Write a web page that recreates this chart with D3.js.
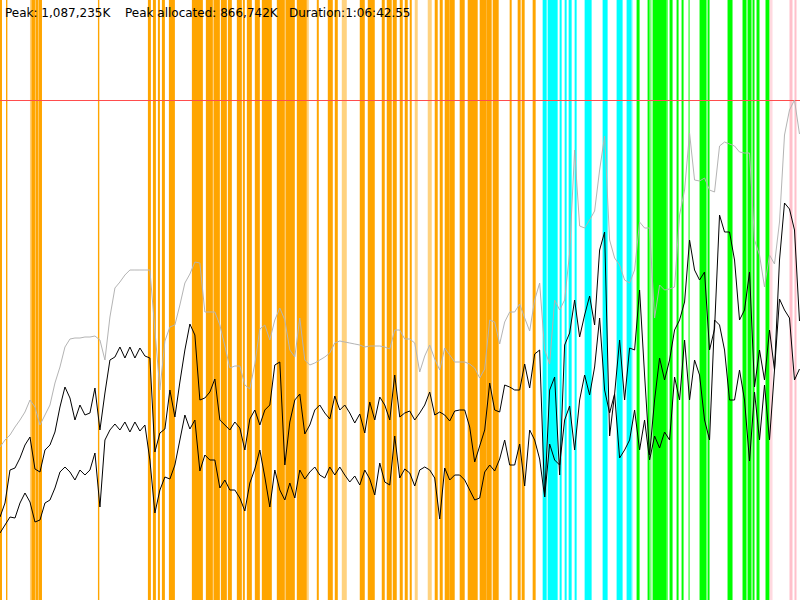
<!DOCTYPE html>
<html>
<head>
<meta charset="utf-8">
<script src="https://cdn.jsdelivr.net/npm/d3@7"></script>
<style>
  body { margin: 0; background: #fff; }
  svg { display: block; }
  text { font-family: "DejaVu Sans", sans-serif; font-size: 12px; fill: #000; }
</style>
</head>
<body>
<svg id="chart"></svg>
<script>
const WIDTH = 800;
const HEIGHT = 600;

// run summary
const DURATION_S = 4002.55;
const SAMPLE_S = 25;
const headerLabels = ["Peak: 1,087,235K", "Peak allocated: 866,742K", "Duration:1:06:42.55"];

// heap sizes sampled every 25 s, in % of the peak (1,087,235K)
const heapTotal = [
  30.6, 32, 33, 34.6, 36, 37.6, 40, 38.6, 35, 37,
  39, 43.4, 46.6, 50.6, 52.2, 52.4, 52.4, 52.6, 52.6, 52.8,
  52, 48, 56.6, 62.4, 63.6, 65, 66, 66, 66, 66,
  66, 54, 42, 51.8, 54.6, 55, 59, 63.4, 65.2, 67.6,
  67.4, 57.6, 57.6, 57.6, 55, 50.8, 46.4, 46.8, 46.8, 43,
  42.2, 47.2, 54.2, 55, 52, 56, 58.4, 56, 50, 48.6,
  56.4, 48, 47, 47.4, 48, 48.6, 49.4, 51.4, 51.8, 51.6,
  51.4, 51.2, 51, 50.6, 50.8, 50.8, 50.8, 50.6, 50.2, 54,
  54, 52.2, 52.2, 51.4, 45.6, 48.8, 51, 48.2, 46, 50.4,
  49, 47.6, 47.6, 47.6, 47.2, 46.4, 44.4, 46.2, 56, 55.6,
  51.2, 55.6, 57.6, 57.6, 59.2, 56.4, 53.8, 60, 63.4, 50,
  47.2, 60, 58, 60, 69.4, 90, 74.8, 74.4, 76, 77.8,
  86, 92.8, 72, 68.4, 67, 64, 63.4, 66, 75.6, 74.4,
  74.4, 56.4, 63, 62, 62.2, 62.6, 77, 82, 93.4, 84,
  83.8, 84.4, 82, 81.6, 90.8, 91.6, 91.2, 90.8, 89.6, 89.4,
  89.4, 72, 69, 62.6, 69, 67.2, 75.6, 93, 98, 100,
  93.2
];

const allocatedHigh = [
  16.6, 19.4, 26, 26.4, 28.4, 31, 32.6, 26.2, 25.6, 30,
  31, 33.6, 38.6, 42.6, 40.4, 36, 39, 37, 37.4, 42.4,
  34, 41.4, 48, 48.6, 50.6, 48.4, 50.6, 48.4, 50.4, 48.8,
  48.4, 29.6, 33.4, 34.2, 42, 36.6, 43.6, 50, 55.2, 53,
  40, 40.4, 41.6, 44.2, 36, 35, 34, 35.6, 34.4, 30,
  36.2, 38, 35, 38, 39, 47, 47.6, 27, 35.6, 40,
  41.2, 33.2, 35, 38, 39, 37.4, 36.2, 40.8, 38, 39,
  37.4, 35.4, 37.2, 33.4, 39.6, 36, 40.6, 39, 36, 45,
  36.6, 37.4, 37.8, 36, 37.4, 39, 41.6, 37, 37.6, 37,
  35.8, 37.8, 38, 38, 34.6, 27.6, 30.8, 34, 43.4, 38,
  37.6, 43, 42.6, 42, 42, 47.2, 42.4, 49.2, 50, 20.6,
  42, 44.6, 25, 51, 53.4, 60, 52.6, 57, 60.8, 55,
  70, 73.6, 32.8, 41.2, 52, 40, 50.4, 50, 62, 45,
  29, 40, 48.4, 44, 48, 54, 56, 59.6, 72, 66,
  64, 65.6, 50, 54.2, 77, 73.6, 73.6, 68, 56, 58,
  65.6, 42.6, 50, 44, 54, 46, 68, 79.4, 78.2, 74,
  55.8
];

const allocatedLow = [
  13.4, 15, 16.6, 16.4, 19.4, 21.4, 19.6, 15.6, 16, 19.4,
  20, 22.4, 25.6, 26.6, 25.6, 24, 26, 25, 26, 29.4,
  18.6, 32, 34, 35.2, 34, 35.6, 33.6, 35.6, 33.8, 35,
  28, 17.4, 22, 24.6, 24.2, 27, 32, 37, 34.2, 36,
  25.8, 29, 28, 28, 22.4, 24, 22, 22, 20.4, 17.8,
  23.4, 26.2, 30, 24.6, 18.6, 26, 22, 20, 23.4, 20.4,
  26, 24.2, 25.6, 26.6, 25, 24.4, 26.6, 25, 26.6, 25,
  23.6, 24.8, 23, 26, 24.2, 21, 27.4, 23.6, 23, 32.8,
  24.4, 26.2, 25.4, 22.8, 26, 26.6, 26, 24.4, 16.2, 26.4,
  24, 25, 25, 24, 22, 20, 20.4, 25.6, 27, 25.8,
  28.2, 32, 27, 27, 31.2, 22.8, 34, 32, 28.2, 20.6,
  31.2, 28, 27, 36, 38.8, 30, 40, 45, 41, 46.6,
  56.4, 42, 37.4, 41.2, 28.4, 30, 32, 38, 30, 36,
  28, 32.8, 30.4, 33.6, 32, 44.6, 40, 52, 40, 48,
  45, 36, 32, 56, 55, 50, 40, 40, 46, 40,
  27.8, 41.6, 32, 43, 32, 46, 60.2, 58, 56.4, 44,
  46.2
];

// collection periods, [start s, end s]
const orangeSpans = [
  [0, 10], [30, 37], [157, 175], [177, 190], [192, 210], [490, 497],
  [740, 755], [765, 780], [790, 800], [810, 825], [845, 875],
  [960, 1015], [1030, 1065], [1068, 1100], [1105, 1135], [1140, 1160],
  [1185, 1210], [1215, 1225], [1235, 1260], [1275, 1300], [1310, 1360],
  [1385, 1425], [1428, 1475], [1485, 1535], [1585, 1595], [1640, 1665],
  [1675, 1690], [1800, 1825], [1840, 1875], [1910, 1925], [1935, 1960],
  [1965, 1985], [2000, 2015], [2025, 2040], [2050, 2060], [2175, 2190],
  [2200, 2215], [2225, 2250], [2250, 2275], [2300, 2325], [2340, 2390],
  [2400, 2435], [2435, 2460], [2465, 2495], [2550, 2560], [2590, 2605],
  [2610, 2625], [2665, 2680]
];
const orangeFaint = [[150, 157], [1535, 1545], [1710, 1735], [2075, 2090], [2140, 2160]];

const cyanSpans = [
  [2715, 2735], [2740, 2790], [2800, 2810], [2825, 2835], [2845, 2860],
  [2875, 2885], [2925, 2960], [3015, 3040], [3085, 3115], [3135, 3160]
];
const cyanFaint = [[3160, 3165]];

const greenSpans = [
  [3185, 3200], [3240, 3250], [3265, 3335], [3335, 3340], [3350, 3365],
  [3385, 3395], [3410, 3420], [3445, 3450], [3500, 3535], [3540, 3550],
  [3640, 3665], [3715, 3735], [3740, 3760], [3765, 3775], [3785, 3800],
  [3830, 3850]
];
const greenFaint = [[3250, 3260]];

const pinkSpans = [[3950, 3965], [3975, 3985]];
const pinkFaint = [[3850, 3865]];

const PEAK_PCT = 100;

const svg = d3.select('#chart')
  .attr('width', WIDTH)
  .attr('height', HEIGHT);

const x = d3.scaleLinear().domain([0, DURATION_S]).range([0, WIDTH]);
const y = d3.scaleLinear().domain([0, PEAK_PCT]).range([HEIGHT, 100]);

//    Spans    ////////////////////////////////////////////////////////////

const spanGroups = [
  { spans: orangeSpans, color: '#ffa500', opacity: 1 },
  { spans: orangeFaint, color: '#ffa500', opacity: 0.5 },
  { spans: cyanSpans, color: '#00ffff', opacity: 1 },
  { spans: cyanFaint, color: '#00ffff', opacity: 0.5 },
  { spans: greenSpans, color: '#00ff00', opacity: 1 },
  { spans: greenFaint, color: '#00ff00', opacity: 0.5 },
  { spans: pinkSpans, color: '#ffc0cb', opacity: 1 },
  { spans: pinkFaint, color: '#ffc0cb', opacity: 0.6 }
];

spanGroups.forEach(g => {
  svg.append('g')
    .selectAll('rect')
    .data(g.spans)
    .enter().append('rect')
    .attr('x', d => x(d[0]))
    .attr('width', d => Math.max(1, x(d[1]) - x(d[0])))
    .attr('y', 0)
    .attr('height', HEIGHT)
    .attr('fill', g.color)
    .attr('fill-opacity', g.opacity);
});

//    Peak line    //////////////////////////////////////////////////////////

svg.append('line')
  .attr('x1', 0).attr('x2', WIDTH)
  .attr('y1', y(PEAK_PCT) + 0.5).attr('y2', y(PEAK_PCT) + 0.5)
  .attr('stroke', '#ff4d4d')
  .attr('stroke-width', 1);

//    Series    ///////////////////////////////////////////////////////////

const line = d3.line()
  .x((d, i) => x(i * SAMPLE_S))
  .y(d => y(d));

svg.append('path')
  .datum(heapTotal)
  .attr('fill', 'none')
  .attr('stroke', '#b4b4b4')
  .attr('stroke-width', 1)
  .attr('d', line);

[allocatedLow, allocatedHigh].forEach(series => {
  svg.append('path')
    .datum(series)
    .attr('fill', 'none')
    .attr('stroke', '#000')
    .attr('stroke-width', 1)
    .attr('d', line);
});

//    Header    ///////////////////////////////////////////////////////////

const headerX = [5, 125, 289];
svg.selectAll('.header')
  .data(headerLabels)
  .enter().append('text')
  .attr('class', 'header')
  .attr('x', (d, i) => headerX[i])
  .attr('y', 17)
  .text(d => d);
</script>
</body>
</html>
